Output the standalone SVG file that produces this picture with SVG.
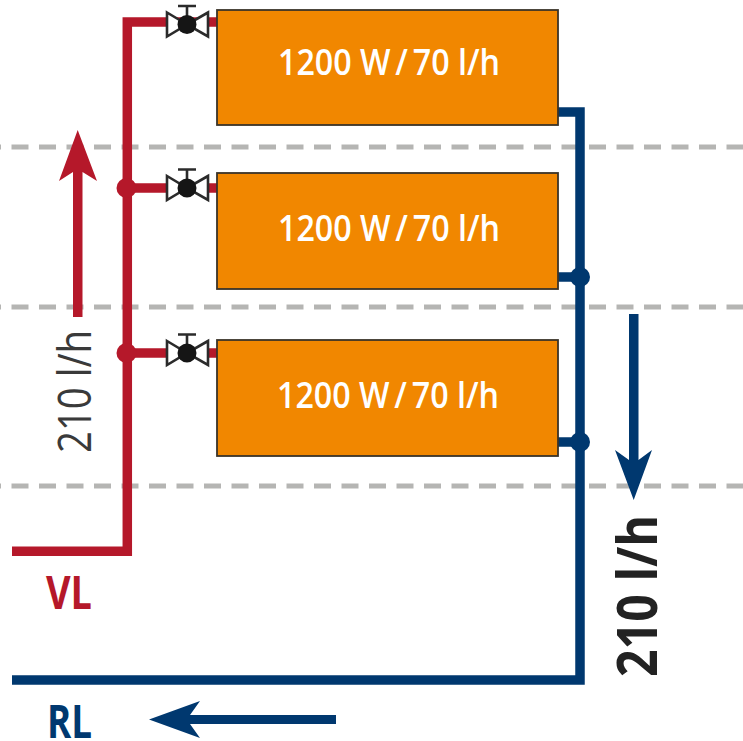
<svg xmlns="http://www.w3.org/2000/svg" width="743" height="741" viewBox="0 0 743 741">
<style>
text{font-family:"Open Sans","Liberation Sans",sans-serif}
.grid{stroke:#b5b5b3;stroke-width:5;stroke-dasharray:17 10.5;fill:none}
.red{stroke:#b5182a;stroke-width:9.5;fill:none;stroke-linejoin:miter}
.blue{stroke:#00386f;stroke-width:9.5;fill:none;stroke-linejoin:miter}
.rf{fill:#b5182a}.bf{fill:#00386f}
.rad{fill:#f18700;stroke:#3a3328;stroke-width:1.8}
.rl{fill:#fff;font-size:36px;font-weight:600}
.vt{fill:#fff;stroke:#2b2b2b;stroke-width:2.6}
.vb{fill:#151515}
.vs{stroke:#2b2b2b;stroke-width:2.6;fill:none}
</style>
<defs>
<g id="valve">
<path class="vt" d="M167 -12L187 0L167 12Z"/>
<path class="vt" d="M208 -12L187 0L208 12Z"/>
<path class="vs" d="M187 0V-18M178 -18.500H196"/>
<circle class="vb" cx="187" cy="0" r="9.500"/>
</g>
</defs>
<g id="gridlines">
<path class="grid" d="M-16 147H743"/>
<path class="grid" d="M-16 307H743"/>
<path class="grid" d="M-16 486H743"/>
</g>
<g id="connectors">
<path class="red" d="M12 551.300H127.300V22H217"/>
<path class="red" d="M127 188H217M127 353H217"/>
<path class="blue" d="M12 680H580V112H558"/>
<path class="blue" d="M558 277H580M558 442H580"/>
<circle class="rf" cx="126.500" cy="188" r="10"/>
<circle class="rf" cx="126.500" cy="353" r="10"/>
<circle class="bf" cx="580" cy="277" r="10"/>
<circle class="bf" cx="580" cy="442" r="10"/>
</g>
<g id="radiator-1"><rect class="rad" x="217" y="10" width="341" height="115"/><text class="rl" x="278" y="75" dx="0 0 0 0 0 0 0 -4 0 -4" textLength="222" lengthAdjust="spacingAndGlyphs">1200 W / 70 l/h</text></g>
<g id="radiator-2"><rect class="rad" x="217" y="173" width="341" height="116"/><text class="rl" x="278" y="241" dx="0 0 0 0 0 0 0 -4 0 -4" textLength="222" lengthAdjust="spacingAndGlyphs">1200 W / 70 l/h</text></g>
<g id="radiator-3"><rect class="rad" x="217" y="340" width="341" height="116"/><text class="rl" x="277" y="408" dx="0 0 0 0 0 0 0 -4 0 -4" textLength="222" lengthAdjust="spacingAndGlyphs">1200 W / 70 l/h</text></g>
<g id="valve-1"><use href="#valve" y="24.500"/></g>
<g id="valve-2"><use href="#valve" y="188"/></g>
<g id="valve-3"><use href="#valve" y="353"/></g>
<g id="arrow-up"><path class="rf" d="M73 317V172L59 181L77.700 130L97 181L82.500 172V317Z"/></g>
<g id="arrow-down"><path class="bf" d="M629 314V460L615 450L633.700 500L652 450L638.500 460V314Z"/></g>
<g id="arrow-left"><path class="bf" d="M336 715V724H190L200 738L149 719.500L200 701L190 715Z"/></g>
<g id="label-vl"><text x="46" y="608.500" fill="#b5182a" font-size="46" font-weight="700" textLength="46" lengthAdjust="spacingAndGlyphs">VL</text></g>
<g id="label-rl"><text x="47" y="737.500" fill="#00386f" font-size="46" font-weight="700" textLength="45" lengthAdjust="spacingAndGlyphs">RL</text></g>
<g id="label-flow-up"><text transform="translate(91 453) rotate(-90)" fill="#3a3a3a" font-size="46" textLength="123" lengthAdjust="spacingAndGlyphs">210 l/h</text></g>
<g id="label-flow-down"><text transform="translate(657 677) rotate(-90)" fill="#222" font-size="56" font-weight="700" textLength="162" lengthAdjust="spacingAndGlyphs">210 l/h</text></g>
</svg>
